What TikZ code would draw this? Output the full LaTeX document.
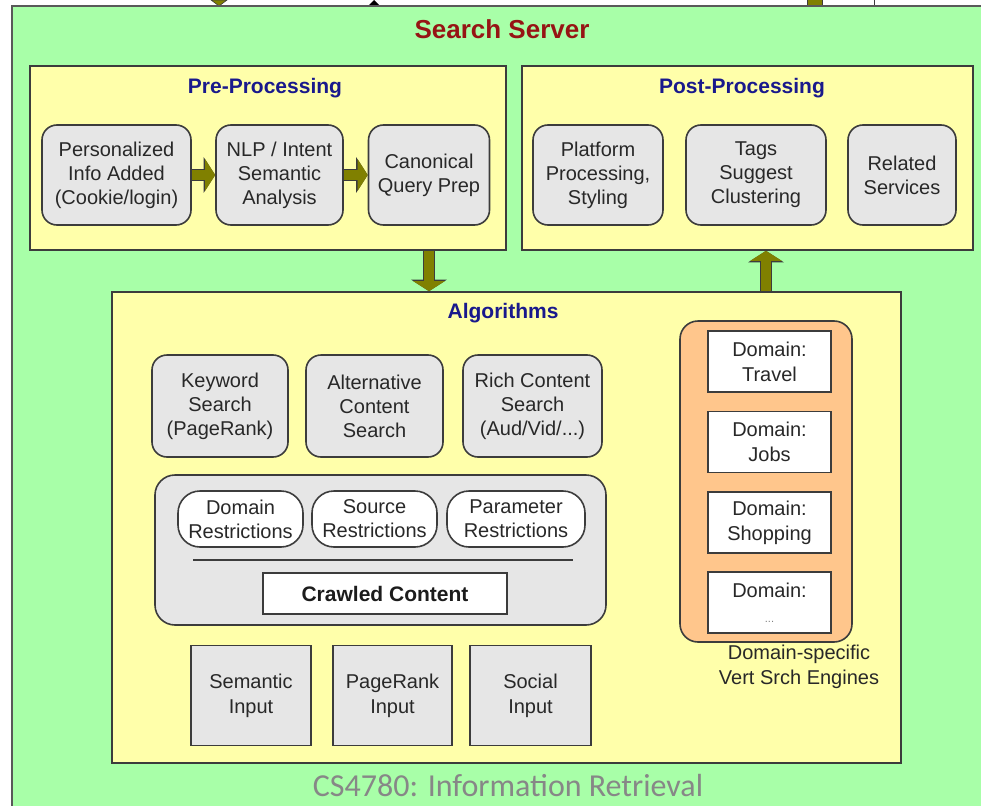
\documentclass[tikz,border=0pt]{standalone}
\usepackage{fontspec}
\setmainfont{Liberation Sans}
\newfontfamily\footfont{Carlito}
\usetikzlibrary{fit,arrows.meta,calc}
\definecolor{bggreen}{RGB}{168,255,168}
\definecolor{bgyellow}{RGB}{255,255,170}
\definecolor{boxgrey}{RGB}{230,230,230}
\definecolor{vorange}{RGB}{255,198,140}
\definecolor{arrowolive}{RGB}{128,128,0}
\definecolor{titleblue}{RGB}{25,25,140}
\definecolor{titlered}{RGB}{150,20,20}
\definecolor{edgegrey}{RGB}{60,60,60}
\definecolor{txtgrey}{RGB}{40,40,40}
\definecolor{footgrey}{RGB}{135,135,135}
\begin{document}
\begin{tikzpicture}[x=1pt,y=-1pt,
  container/.style={draw=edgegrey, line width=1.6pt, inner sep=0pt},
  paneltitle/.style={font=\bfseries\fontsize{21}{25}\selectfont, text=titleblue},
  roundbox/.style={draw=edgegrey, line width=1.6pt, fill=boxgrey, rounded corners=15pt,
    align=center, text=txtgrey, font=\fontsize{20}{24}\selectfont, minimum height=100pt, inner sep=2pt},
  pill/.style={draw=edgegrey, line width=1.6pt, fill=white, rounded corners=22pt,
    align=center, text=txtgrey, font=\fontsize{20}{24}\selectfont, minimum height=56pt, inner sep=1pt},
  inbox/.style={draw=edgegrey, line width=1.6pt, fill=boxgrey,
    align=center, text=txtgrey, font=\fontsize{20}{25}\selectfont, minimum height=100pt, inner sep=2pt},
  dombox/.style={draw=edgegrey, line width=1.6pt, fill=white, minimum width=123pt, minimum height=61pt,
    align=center, text=txtgrey, font=\fontsize{20}{25}\selectfont, inner sep=1pt},
  fatarrow/.style={line width=10pt, draw=arrowolive, -{Triangle[length=10pt,width=31pt]},
    preaction={draw=edgegrey, line width=12.5pt, -{Triangle[length=11.5pt,width=35pt]}}}
]
\useasboundingbox (0,0) rectangle (981,805);
\fill[white] (0,0) rectangle (981,805);

% cut-off pieces at the top edge
\fill[arrowolive, draw=edgegrey, line width=0.6pt] (211,0) -- (227,0) -- (219,6) -- cycle;
\fill[black] (367,7) -- (381,7) -- (374,0) -- cycle;
\fill[arrowolive, draw=edgegrey, line width=0.6pt] (807,-1) rectangle (822,7);
\draw[edgegrey, line width=1pt] (874,0) -- (874,7);

% Search server
\node[container, draw=gray!70!black, fill=bggreen, fit={(12,6)(1000,830)}] (server) {};
\node[font=\bfseries\fontsize{26}{30}\selectfont, text=titlered] (servertitle) at (502,29) {Search Server};

% Pre-processing
\node[container, fill=bgyellow, fit={(30,66)(506,250)}] (pre) {};
\node[paneltitle] (pretitle) at (265,88) {Pre-Processing};
\node[roundbox, minimum width=149pt] (pers) at (116.5,175) {Personalized\\Info Added\\(Cookie/login)};
\node[roundbox, minimum width=127pt] (nlp) at (279.5,175) {NLP / Intent\\Semantic\\Analysis};
\node[roundbox, minimum width=121pt] (canon) at (429,175) {Canonical\\Query Prep};
\draw[fatarrow] (pers) -- (nlp);
\draw[fatarrow] (nlp) -- (canon);

% Post-processing
\node[container, fill=bgyellow, fit={(522,66)(973,250)}] (post) {};
\node[paneltitle] (posttitle) at (742,88) {Post-Processing};
\node[roundbox, minimum width=130pt] (plat) at (598,175) {Platform\\Processing,\\Styling};
\node[roundbox, minimum width=140pt] (tags) at (756,175) {Tags\\Suggest\\Clustering};
\node[roundbox, minimum width=108pt] (rel) at (902,175) {Related\\Services};

% Algorithms
\node[container, fill=bgyellow, fit={(112,292)(901,763)}] (alg) {};
\node[paneltitle] (algtitle) at (503,313) {Algorithms};
\node[roundbox, minimum width=136pt, minimum height=102pt] (kw) at (220,406) {Keyword\\Search\\(PageRank)};
\node[roundbox, minimum width=137pt, minimum height=102pt] (alt) at (374.5,406) {Alternative\\Content\\Search};
\node[roundbox, minimum width=139pt, minimum height=102pt] (rich) at (532.5,406) {Rich Content\\Search\\(Aud/Vid/...)};

\node[draw=edgegrey, line width=1.6pt, fill=boxgrey, rounded corners=20pt,
  minimum width=451pt, minimum height=150pt] (crawlgroup) at (380.5,550) {};
\node[pill, minimum width=125pt] (domr) at (240.5,519) {Domain\\Restrictions};
\node[pill, minimum width=125pt] (srcr) at (374.5,519) {Source\\Restrictions};
\node[pill, minimum width=138pt] (parr) at (516,519) {Parameter\\Restrictions};
\draw[edgegrey, line width=1.6pt] (193,560) -- (573,560);
\node[draw=edgegrey, line width=1.6pt, fill=white, minimum width=244pt, minimum height=41pt,
  font=\bfseries\fontsize{21}{25}\selectfont, text=txtgrey!70!black] (crawl) at (385,593.5) {Crawled Content};

\node[inbox, minimum width=120pt] (seminp) at (251,695.5) {Semantic\\Input};
\node[inbox, minimum width=119pt] (prinp) at (392.5,695.5) {PageRank\\Input};
\node[inbox, minimum width=121pt] (socinp) at (530.5,695.5) {Social\\Input};

% Vertical search engines
\node[draw=edgegrey, line width=1.6pt, fill=vorange, rounded corners=18pt,
  minimum width=172pt, minimum height=321pt] (vert) at (766,481.5) {};
\node[dombox] (dtravel) at (769.5,361.5) {Domain:\\Travel};
\node[dombox] (djobs) at (769.5,442) {Domain:\\Jobs};
\node[dombox] (dshop) at (769.5,522.5) {Domain:\\Shopping};
\node[dombox] (dmore) at (769.5,602.5) {Domain:\\{\fontsize{11}{14}\selectfont\color{gray}...}};
\node[align=center, text=txtgrey, font=\fontsize{20}{25}\selectfont] (vertlabel) at (799,667)
  {Domain-specific\\Vert Srch Engines};

% flow between panels
\draw[fatarrow] (canon |- pre.south) -- (canon |- alg.north);
\draw[fatarrow] (vert |- alg.north) -- (vert |- post.south);

% footer
\node[font=\footfont\fontsize{32}{36}\selectfont, text=footgrey] (footer) at (508,786) {CS4780: Information Retrieval};
\end{tikzpicture}
\end{document}
